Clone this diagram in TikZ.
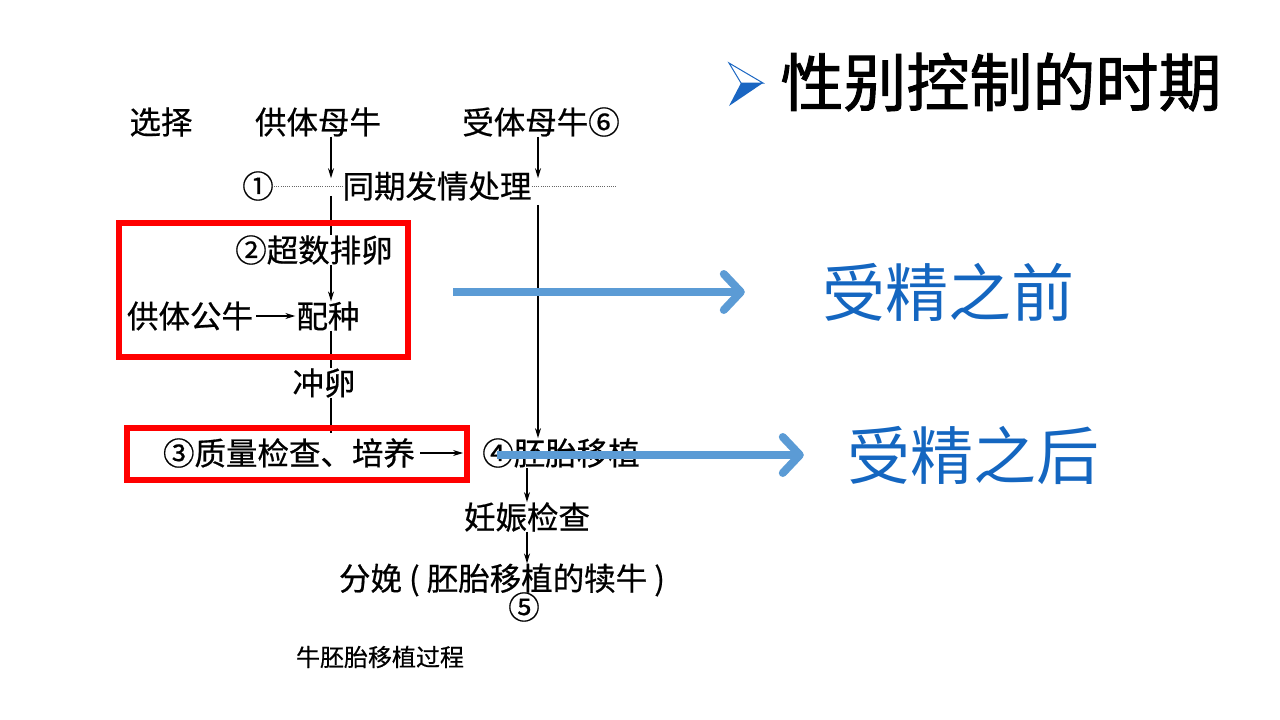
\documentclass[tikz,border=0pt]{standalone}
\usepackage{fontspec}
\usetikzlibrary{arrows.meta, positioning}

\newfontfamily\cjk[FakeBold=0.6]{Noto Sans CJK SC}
\newfontfamily\cjkheavy[FakeBold=1.5]{Noto Sans CJK SC}
\newfontfamily\cjkplain{Noto Sans CJK SC}

\definecolor{boxRed}{HTML}{FF0000}
\definecolor{arrowBlue}{HTML}{5B9BD5}
\definecolor{labelBlue}{HTML}{1466C0}
\definecolor{bulletBlue}{HTML}{1A66C2}

\begin{document}
\begin{tikzpicture}[x=1pt, y=-1pt,
    flowtext/.style={font=\cjk\fontsize{31.5}{32}\selectfont, inner sep=0pt},
    captiontext/.style={font=\cjk\fontsize{24}{26}\selectfont, inner sep=0pt},
    titletext/.style={font=\cjkheavy\fontsize{63}{66}\selectfont, inner sep=0pt},
    sidetext/.style={font=\cjkplain\fontsize{63}{66}\selectfont, inner sep=0pt, text=labelBlue},
    flowarrow/.style={-{Stealth[length=10pt,width=6pt]}, line width=1.2pt},
    flowline/.style={line width=1.2pt},
    dotline/.style={line width=0.8pt, gray!80!black, dash pattern=on 0.8pt off 1.4pt},
    redbox/.style={draw=boxRed, line width=6pt},
    bluearrow/.style={arrowBlue, line width=8pt, -{Straight Barb[length=17pt,width=36pt,round]}}]

    \useasboundingbox (0,0) rectangle (1280,720);

    % Columns of the flow chart
    \coordinate (colL) at (331,0);
    \coordinate (colR) at (538,0);

    % Flow chart texts
    \node[flowtext] (select) at (161,122) {选择};
    \node[flowtext] (donorCow) at (318,122) {供体母牛};
    \node[flowtext] (recipCow) at (541,122) {受体母牛⑥};
    \node[flowtext] (one) at (258,186) {①};
    \node[flowtext] (sync) at (437,186) {同期发情处理};
    \coordinate (syncEnd) at (617,186);
    \node[flowtext] (superOv) at (314,250) {②超数排卵};
    \node[flowtext] (mating) at (328,316) {配种};
    \node[flowtext] (donorBull) at (190,316) {供体公牛};
    \node[flowtext] (flush) at (324,383) {冲卵};
    \node[flowtext] (check) at (289,453) {③质量检查、培养};
    \node[flowtext] (transfer) at (561,453) {④胚胎移植};
    \node[flowtext] (pregnancy) at (527,517) {妊娠检查};
    \node[flowtext] (calving) at (502,580) {分娩 ( 胚胎移植的犊牛 )};
    \node[flowtext] (five) at (524,607) {⑤};
    \node[captiontext] (caption) at (380,657) {牛胚胎移植过程};

    % Dotted line of step 1
    \draw[dotline] (one.east) -- (sync.west);
    \draw[dotline] (sync.east) -- (syncEnd);

    % Left column
    \draw[flowarrow] (donorCow.south -| colL) -- ([yshift=-7pt]sync.north -| colL);
    \draw[flowline] ([yshift=5pt]sync.south -| colL) -- (superOv.north -| colL);
    \draw[flowarrow] (superOv.south -| colL) -- (mating.north -| colL);
    \draw[flowarrow] ([xshift=3pt]donorBull.east) -- ([xshift=-1pt]mating.west);
    \draw[flowline] (mating.south -| colL) -- (flush.north -| colL);
    \draw[flowline] (flush.south -| colL) -- ([yshift=5pt]check.north -| colL);

    % Right column
    \draw[flowarrow] (recipCow.south -| colR) -- ([yshift=-7pt]sync.north -| colR);
    \draw[flowarrow] ([yshift=-4pt]sync.south -| colR) -- (transfer.north -| colR);
    \draw[flowarrow] ([xshift=5pt]check.east) -- ([xshift=-19pt]transfer.west);
    \draw[flowarrow] (transfer.south -| pregnancy.north) -- (pregnancy.north);
    \draw[flowarrow] (pregnancy.south) -- (calving.north -| pregnancy.south);

    % Red boxes
    \draw[redbox] (119,223) rectangle (408,357);
    \draw[redbox] (127,428) rectangle (467,480);

    % Blue arrows and their labels
    \node[sidetext] (beforeFert) at (948,292) {受精之前};
    \node[sidetext] (afterFert) at (973,455) {受精之后};
    \coordinate (startA) at (453,292);
    \coordinate (startB) at (497,455);
    \draw[bluearrow, shorten >=77pt] (startA) -- (beforeFert.west);
    \draw[bluearrow, shorten >=43pt] (startB) -- (afterFert.west);

    % Title with bullet
    \draw[bulletBlue, line width=1pt, line join=miter] (729,63) -- (763,83) -- (741,83) -- cycle;
    \fill[bulletBlue] (741,83) -- (763,83) -- (729,106) -- cycle;
    \node[titletext] (title) at (1001,82) {性别控制的时期};
\end{tikzpicture}
\end{document}
